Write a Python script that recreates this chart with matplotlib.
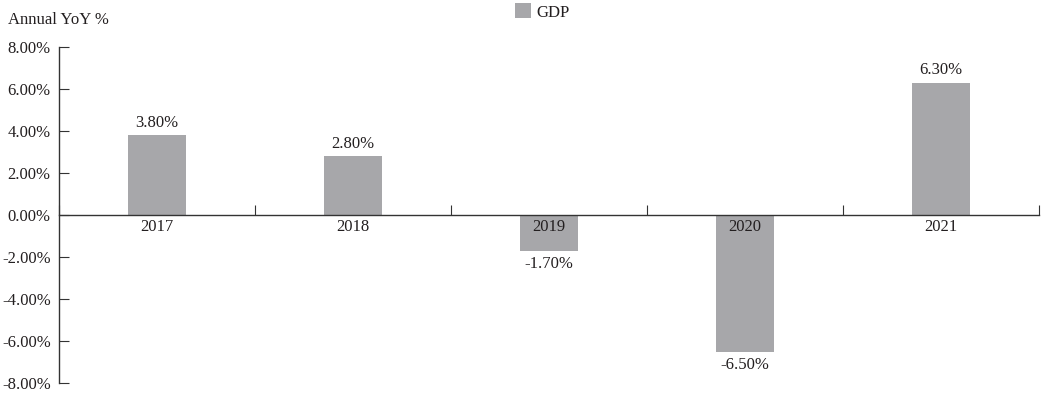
import matplotlib
matplotlib.use("Agg")
import matplotlib.pyplot as plt
import numpy as np
from matplotlib.ticker import FixedLocator, NullFormatter

plt.rcParams['font.family'] = ['Liberation Serif', 'DejaVu Serif']

years = ['2017', '2018', '2019', '2020', '2021']
gdp = [3.8, 2.8, -1.7, -6.5, 6.3]
bar_color = '#a7a7aa'
text_color = '#231f20'
fs = 12

fig = plt.figure(figsize=(10.41, 3.94), dpi=100)
ax = fig.add_axes([59 / 1041, 1 - 383 / 394, 980 / 1041, 336 / 394])

x = np.arange(len(years))
bars = ax.bar(x, gdp, width=0.3, color=bar_color, label='GDP', zorder=2)

for xi, v in zip(x, gdp):
    if v >= 0:
        ax.text(xi, v + 0.2, f'{v:.2f}%', ha='center', va='bottom', fontsize=fs, color=text_color)
    else:
        ax.text(xi, v - 0.25, f'{v:.2f}%', ha='center', va='top', fontsize=fs, color=text_color)

ax.set_xlim(-0.5, len(years) - 0.5)
ax.set_ylim(-8, 8)
ax.set_yticks(np.arange(-8, 9, 2))
ax.set_yticklabels([f'{t:.2f}%' for t in np.arange(-8, 9, 2)], fontsize=fs, color=text_color)

# category boundary ticks (major) and centered labels (minor)
ax.xaxis.set_major_locator(FixedLocator(np.arange(-0.5, len(years), 1.0)))
ax.xaxis.set_major_formatter(NullFormatter())
ax.xaxis.set_minor_locator(FixedLocator(x))
ax.set_xticklabels(years, minor=True)
ax.tick_params(axis='x', which='major', direction='in', length=7, color='#333333')
ax.tick_params(axis='x', which='minor', length=0, pad=3, labelsize=fs, labelcolor=text_color)
ax.tick_params(axis='y', direction='in', length=7, color='#333333', pad=6)
ax.set_axisbelow(False)

ax.spines['top'].set_visible(False)
ax.spines['right'].set_visible(False)
ax.spines['bottom'].set_position(('data', 0))
for s in ['left', 'bottom']:
    ax.spines[s].set_color('#333333')
    ax.spines[s].set_linewidth(1.0)

fig.text(8 / 1041, 1 - 20 / 394, 'Annual YoY %', fontsize=fs, color=text_color, va='center', ha='left')
fig.legend(handles=[bars], labels=['GDP'], loc='center', bbox_to_anchor=(542 / 1041, 1 - 12 / 394),
           frameon=False, fontsize=fs, handlelength=1.0, handleheight=1.0, handletextpad=0.3,
           labelcolor=text_color)

fig.savefig('out.png', dpi=100)
